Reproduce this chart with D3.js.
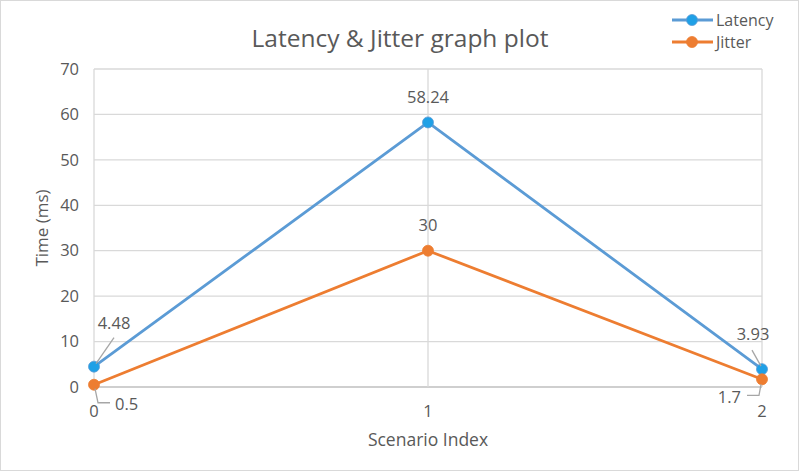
<!DOCTYPE html>
<html><head><meta charset="utf-8">
<script src="https://cdn.jsdelivr.net/npm/d3@7"></script>
<style>body{margin:0;background:#fff}text{font-family:"Open Sans",sans-serif;fill:#595959}</style>
</head><body><svg id="c" width="799" height="471"></svg>
<script>
const scenarios = [0, 1, 2];
const latency = [4.48, 58.24, 3.93];
const jitter = [0.5, 30, 1.7];
const yTicks = [0, 10, 20, 30, 40, 50, 60, 70];
const seriesNames = ["Latency", "Jitter"];

const svg = d3.select("#c");
svg.append("rect").attr("x",0.5).attr("y",0.5).attr("width",798).attr("height",470).attr("fill","#fff").attr("stroke","#d9d9d9");

const x = d3.scaleLinear().domain([0,2]).range([94,762]);
const y = d3.scaleLinear().domain([0,70]).range([387,69]);

// gridlines
const g = svg.append("g");
g.selectAll("line.h").data(yTicks).join("line")
  .attr("x1",x(0)).attr("x2",x(2)).attr("y1",d=>y(d)).attr("y2",d=>y(d))
  .attr("stroke",d=>d===0?"#bfbfbf":"#d9d9d9").attr("stroke-width",1.3);
g.selectAll("line.v").data(scenarios).join("line")
  .attr("x1",d=>x(d)).attr("x2",d=>x(d)).attr("y1",y(0)).attr("y2",y(70))
  .attr("stroke","#d9d9d9").attr("stroke-width",1.3);

// y tick labels
svg.selectAll("text.yt").data(yTicks).join("text")
  .attr("x",79).attr("y",d=>y(d)).attr("dy","0.35em").attr("text-anchor","end")
  .attr("font-size",16.5).text(d=>d);
// x tick labels
svg.selectAll("text.xt").data(scenarios).join("text")
  .attr("x",d=>x(d)).attr("y",411).attr("dy","0.35em").attr("text-anchor","middle")
  .attr("font-size",16.5).text(d=>d);

// titles
svg.append("text").attr("x",400).attr("y",38).attr("dy","0.35em").attr("text-anchor","middle")
  .attr("font-size",24.5).text("Latency & Jitter graph plot");
svg.append("text").attr("transform","translate(42,228) rotate(-90)").attr("dy","0.35em")
  .attr("text-anchor","middle").attr("font-size",17).text("Time (ms)");
svg.append("text").attr("x",x(1)).attr("y",440).attr("dy","0.35em").attr("text-anchor","middle")
  .attr("font-size",17.5).text("Scenario Index");

const colors = {Latency:{line:"#5b9bd5",fill:"#1fa0e6"}, Jitter:{line:"#ed7d31",fill:"#ed7d31"}};
const series = [{name:"Latency",vals:latency},{name:"Jitter",vals:jitter}];
const line = d3.line().x((d,i)=>x(scenarios[i])).y(d=>y(d));

series.forEach(s=>{
  svg.append("path").attr("d",line(s.vals)).attr("fill","none")
    .attr("stroke",colors[s.name].line).attr("stroke-width",2.8).attr("stroke-linejoin","round");
});
series.forEach(s=>{
  svg.selectAll(null).data(s.vals).join("circle")
    .attr("cx",(d,i)=>x(scenarios[i])).attr("cy",d=>y(d)).attr("r",5.5)
    .attr("fill",colors[s.name].fill).attr("stroke",colors[s.name].line).attr("stroke-width",0.8);
});

// leader lines
const lead = svg.append("g").attr("stroke","#a6a6a6").attr("stroke-width",1.3).attr("fill","none");
lead.append("path").attr("d",`M${x(0)+2},${y(latency[0])-3} L${x(0)+20},${y(latency[0])-29}`);
lead.append("path").attr("d",`M${x(0)+1},${y(jitter[0])+4} L${x(0)+4},${y(jitter[0])+18} L${x(0)+16},${y(jitter[0])+18}`);
lead.append("path").attr("d",`M${x(2)-1},${y(latency[2])-3} L${x(2)-10},${y(latency[2])-19}`);
lead.append("path").attr("d",`M${x(2)-1},${y(jitter[2])+5} L${x(2)-3},${y(jitter[2])+16} L${x(2)-15},${y(jitter[2])+16}`);

// data labels
const lab = (t,px,py,anchor)=>svg.append("text").attr("x",px).attr("y",py).attr("dy","0.35em")
  .attr("text-anchor",anchor).attr("font-size",16.5).text(t);
lab(latency[0], x(0)+20, y(latency[0])-43, "middle");
lab(latency[1], x(1), y(latency[1])-25, "middle");
lab(latency[2], x(2)-9, y(latency[2])-35, "middle");
lab(jitter[0], x(0)+21, y(jitter[0])+19, "start");
lab(jitter[1], x(1), y(jitter[1])-25, "middle");
lab(jitter[2], x(2)-21, y(jitter[2])+18, "end");

// legend
const leg = svg.append("g");
series.forEach((s,i)=>{
  const ly = 20 + i*22;
  leg.append("line").attr("x1",672).attr("x2",713).attr("y1",ly).attr("y2",ly)
    .attr("stroke",colors[s.name].line).attr("stroke-width",2.8);
  leg.append("circle").attr("cx",692).attr("cy",ly).attr("r",5.5).attr("fill",colors[s.name].fill)
    .attr("stroke",colors[s.name].line).attr("stroke-width",0.8);
  leg.append("text").attr("x",716).attr("y",ly).attr("dy","0.35em").attr("font-size",16).text(s.name);
});
</script></body></html>
